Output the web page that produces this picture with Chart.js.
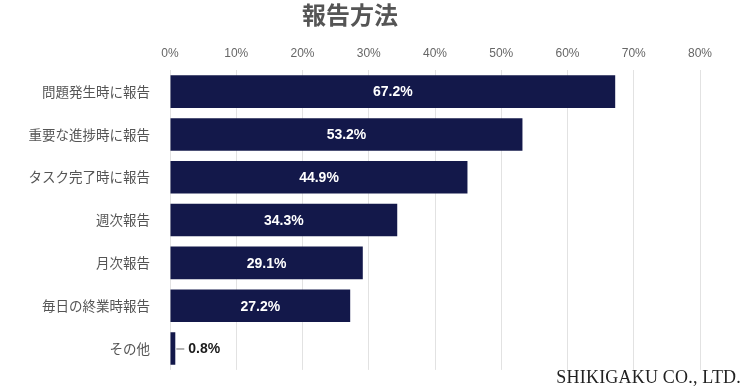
<!DOCTYPE html>
<html>
<head>
<meta charset="utf-8">
<script src="https://cdn.jsdelivr.net/npm/chart.js@4/dist/chart.umd.min.js"></script>
<style>
  html, body { margin: 0; padding: 0; background: #fff; }
  #wrap { position: relative; width: 746px; height: 390px; }
  #credit {
    position: absolute; right: 5px; bottom: 2px;
    font-family: "Liberation Serif", "DejaVu Serif", serif;
    font-size: 18px; color: #222; letter-spacing: 0.2px;
  }
</style>
</head>
<body>
<div id="wrap">
  <canvas id="myChart" width="746" height="390"></canvas>
  <div id="credit">SHIKIGAKU CO., LTD.</div>
</div>
<script>
const labels = [
  "問題発生時に報告",
  "重要な進捗時に報告",
  "タスク完了時に報告",
  "週次報告",
  "月次報告",
  "毎日の終業時報告",
  "その他",
];
const values = [67.2, 53.2, 44.9, 34.3, 29.1, 27.2, 0.8];
const title = "報告方法";

const jpFont = '"Noto Sans CJK JP", "Noto Sans", sans-serif';

// value labels: white inside the bar, or outside with a short leader line
const barLabels = {
  id: "barLabels",
  afterDatasetsDraw(chart) {
    const ctx = chart.ctx;
    const meta = chart.getDatasetMeta(0);
    ctx.save();
    ctx.font = 'bold 14px "Liberation Sans", Arial, sans-serif';
    ctx.textBaseline = "middle";
    meta.data.forEach((bar, i) => {
      const text = values[i].toFixed(1) + "%";
      const w = bar.x - bar.base;
      if (w > 40) {
        ctx.fillStyle = "#ffffff";
        ctx.textAlign = "center";
        ctx.fillText(text, bar.base + w / 2, bar.y + 1);
      } else {
        ctx.strokeStyle = "#666";
        ctx.lineWidth = 1;
        ctx.beginPath();
        ctx.moveTo(bar.x + 1, bar.y + 0.5);
        ctx.lineTo(bar.x + 9, bar.y + 0.5);
        ctx.stroke();
        ctx.fillStyle = "#1a1a1a";
        ctx.textAlign = "left";
        ctx.fillText(text, bar.x + 13, bar.y + 1);
      }
    });
    ctx.restore();
  },
};

const ctx = document.getElementById("myChart");
new Chart(ctx, {
  type: "bar",
  data: {
    labels: labels,
    datasets: [
      {
        data: values,
        backgroundColor: "#13184a",
        borderWidth: 0,
        barPercentage: 0.76,
        categoryPercentage: 1,
      },
    ],
  },
  options: {
    indexAxis: "y",
    responsive: false,
    animation: false,
    layout: { padding: { top: 0, right: 46, bottom: 14, left: 0 } },
    plugins: {
      legend: { display: false },
      tooltip: { enabled: false },
      title: {
        display: true,
        text: title,
        color: "#555",
        font: { family: jpFont, size: 24, weight: "bold" },
        padding: { top: 0, bottom: 8 },
      },
    },
    scales: {
      x: {
        position: "top",
        min: 0,
        max: 80,
        ticks: {
          stepSize: 10,
          color: "#666",
          font: { family: '"Liberation Sans", Arial, sans-serif', size: 12 },
          padding: 9.5,
          callback: (v) => v + "%",
        },
        grid: { color: "#e2e2e2", drawTicks: false },
        border: { display: false },
      },
      y: {
        afterFit: (scale) => {
          scale.width = 170;
        },
        ticks: {
          color: "#555",
          font: { family: jpFont, size: 13.5 },
          padding: 12,
        },
        grid: { display: false },
        border: { display: false },
      },
    },
  },
  plugins: [barLabels],
});
</script>
</body>
</html>
